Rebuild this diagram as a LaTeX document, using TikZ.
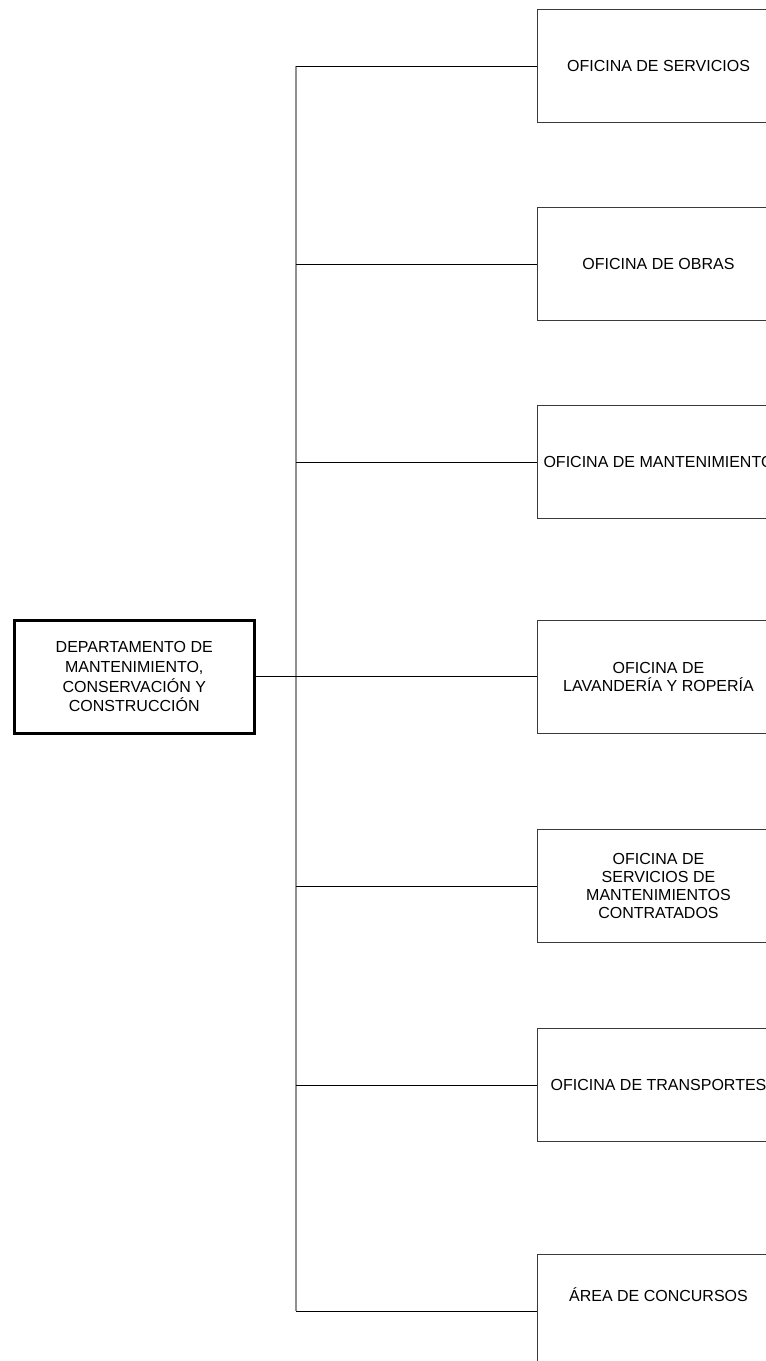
\documentclass[tikz,border=0pt]{standalone}
\usepackage{fontspec}
\setmainfont{Liberation Sans}
\usepackage{xcolor}
\definecolor{boxline}{HTML}{3A3A3A}
\definecolor{spinegray}{HTML}{909090}
\usepackage{tikz}
\usetikzlibrary{positioning,calc}
\tikzset{
  obox/.style={rectangle, draw=boxline, line width=0.5pt, fill=white,
               minimum width=121pt, minimum height=56.5pt, anchor=north west,
               font=\fontsize{8}{9}\selectfont, align=center, inner sep=1pt},
  dbox/.style={rectangle, draw=black, line width=1.25pt, fill=white,
               minimum width=120pt, minimum height=56.5pt, anchor=north west,
               font=\fontsize{8}{9.8}\selectfont, align=center},
  oline/.style={draw=black, line width=0.5pt},
  sline/.style={draw=spinegray, line width=0.8pt},
}
\begin{document}
\begin{tikzpicture}[x=0.5pt, y=-0.5pt]
  \useasboundingbox (0,0) rectangle (766,1361);
  \clip (0,0) rectangle (766,1361);

  % Department
  \node[dbox] (dep) at (13,619) {DEPARTAMENTO DE\\MANTENIMIENTO,\\CONSERVACIÓN Y\\CONSTRUCCIÓN};

  % Offices
  \node[obox] (of1) at (537,9)    {OFICINA DE SERVICIOS};
  \node[obox] (of2) at (537,207)  {OFICINA DE OBRAS};
  \node[obox] (of3) at (537,405)  {OFICINA DE MANTENIMIENTO};
  \node[obox] (of4) at (537,620)  {OFICINA DE\\LAVANDERÍA Y ROPERÍA};
  \node[obox] (of5) at (537,829)  {OFICINA DE\\SERVICIOS DE\\MANTENIMIENTOS\\CONTRATADOS};
  \node[obox] (of6) at (537,1028) {OFICINA DE TRANSPORTES};
  \node[obox, label={[yshift=8pt, font=\fontsize{8}{9}\selectfont]center:ÁREA DE CONCURSOS}] (of7) at (537,1254) {};

  % Spine
  \coordinate (sptop) at (296,66);
  \coordinate (spbot) at (296,1310);
  \draw[sline] (sptop |- of1.west) -- (sptop |- of7.west);

  % Connectors
  \draw[oline] (dep.east) -- (dep.east -| of4.west);
  \draw[oline] (sptop |- of1.west) -- (of1.west);
  \draw[oline] (sptop |- of2.west) -- (of2.west);
  \draw[oline] (sptop |- of3.west) -- (of3.west);
  \draw[oline] (sptop |- of5.west) -- (of5.west);
  \draw[oline] (sptop |- of6.west) -- (of6.west);
  \draw[oline] (spbot |- of7.west) -- (of7.west);
\end{tikzpicture}
\end{document}
